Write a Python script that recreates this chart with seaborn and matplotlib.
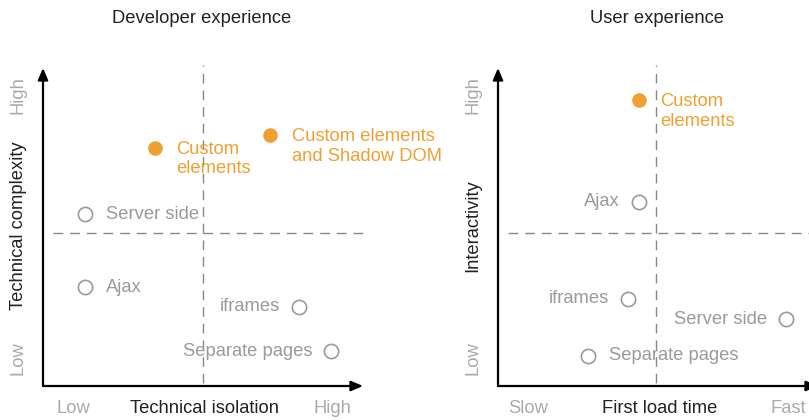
import matplotlib
matplotlib.use("Agg")
import matplotlib.pyplot as plt
import seaborn as sns
import pandas as pd

# data (0-10 scale on both axes)
dev_names = ["Custom\nelements", "Custom elements\nand Shadow DOM", "Server side", "Ajax", "iframes", "Separate pages"]
dev_x = [3.5, 7.1, 1.3, 1.3, 8.0, 9.0]
dev_y = [7.5, 7.9, 5.4, 3.1, 2.5, 1.1]
dev_hi = [True, True, False, False, False, False]

usr_names = ["Custom\nelements", "Ajax", "iframes", "Server side", "Separate pages"]
usr_x = [4.4, 4.4, 4.05, 9.0, 2.8]
usr_y = [9.0, 5.8, 2.75, 2.1, 0.95]
usr_hi = [True, False, False, False, False]

# label side: +1 right of the point, -1 left of it
dev_side = [1, 1, 1, 1, -1, -1]
usr_side = [1, -1, -1, -1, 1]

dev_split = (5.0, 4.8)
usr_split = (4.95, 4.8)

ORANGE = "#F0A032"
GREY = "#9a9a9a"
DARK = "#222222"

sns.set_style("white")
plt.rcParams["font.family"] = ["Liberation Sans", "DejaVu Sans"]

fig = plt.figure(figsize=(8.09, 4.20), dpi=100)
ax1 = fig.add_axes([43 / 809, 1 - 386 / 420, 320 / 809, 318 / 420])
ax2 = fig.add_axes([498 / 809, 1 - 386 / 420, 320 / 809, 318 / 420])


def quadrant(ax, names, xs, ys, hi, side, split, title, xlab, xlo, xhi, ylab):
    df = pd.DataFrame({"name": names, "x": xs, "y": ys, "hi": hi, "side": side})
    ax.set_xlim(0, 10)
    ax.set_ylim(0, 10)

    # quadrant dividers
    ax.axvline(split[0], ymin=0.01, ymax=1.01, color="#888888", lw=1.0,
               dashes=(7, 5), clip_on=False, zorder=1)
    ax.axhline(split[1], xmin=0.03, xmax=1.0, color="#888888", lw=1.0,
               dashes=(7, 5), clip_on=False, zorder=1)

    plain = df[~df["hi"]]
    star = df[df["hi"]]
    sns.scatterplot(data=plain, x="x", y="y", ax=ax, color="white",
                    edgecolor=GREY, linewidth=1.2, s=105, zorder=3, clip_on=False)
    sns.scatterplot(data=star, x="x", y="y", ax=ax, color=ORANGE,
                    linewidth=0, s=110, zorder=3, clip_on=False)

    for _, r in df.iterrows():
        col = ORANGE if r["hi"] else GREY
        lines = r["name"].count("\n")
        dy = -8.5 if lines else 0
        dx = 15.5 if r["side"] > 0 else -13.5
        ax.annotate(r["name"], (r["x"], r["y"]), xytext=(dx, dy),
                    textcoords="offset points", color=col, fontsize=13.2,
                    ha="left" if r["side"] > 0 else "right", va="center",
                    linespacing=1.18, annotation_clip=False)

    # arrow axes
    ax.annotate("", xy=(0, 1.0), xytext=(0, 0), xycoords="axes fraction",
                arrowprops=dict(arrowstyle="-|>,head_length=0.7,head_width=0.3",
                                color="black", lw=1.6, shrinkA=0, shrinkB=0))
    ax.annotate("", xy=(1.0, 0), xytext=(0, 0), xycoords="axes fraction",
                arrowprops=dict(arrowstyle="-|>,head_length=0.7,head_width=0.3",
                                color="black", lw=1.6, shrinkA=0, shrinkB=0))

    tkw = dict(transform=ax.transAxes, fontsize=13.2, va="center", ha="center")
    ax.text(0.497, 1.155, title, color=DARK, **tkw)
    ax.text(0.094, -0.072, xlo, color="#aaaaaa", **tkw)
    ax.text(0.506, -0.072, xlab, color=DARK, **tkw)
    ax.text(0.906, -0.072, xhi, color="#aaaaaa", **tkw)
    ax.text(-0.078, 0.915, "High", color="#aaaaaa", rotation=90, **tkw)
    ax.text(-0.078, 0.088, "Low", color="#aaaaaa", rotation=90, **tkw)
    ax.text(-0.078, 0.505, ylab, color=DARK, rotation=90, **tkw)

    ax.set_xlabel("")
    ax.set_ylabel("")
    ax.set_xticks([])
    ax.set_yticks([])
    sns.despine(ax=ax, left=True, bottom=True)
    if ax.get_legend() is not None:
        ax.get_legend().remove()


quadrant(ax1, dev_names, dev_x, dev_y, dev_hi, dev_side, dev_split,
         "Developer experience", "Technical isolation", "Low", "High",
         "Technical complexity")
quadrant(ax2, usr_names, usr_x, usr_y, usr_hi, usr_side, usr_split,
         "User experience", "First load time", "Slow", "Fast",
         "Interactivity")

fig.savefig("out.png", dpi=100)
